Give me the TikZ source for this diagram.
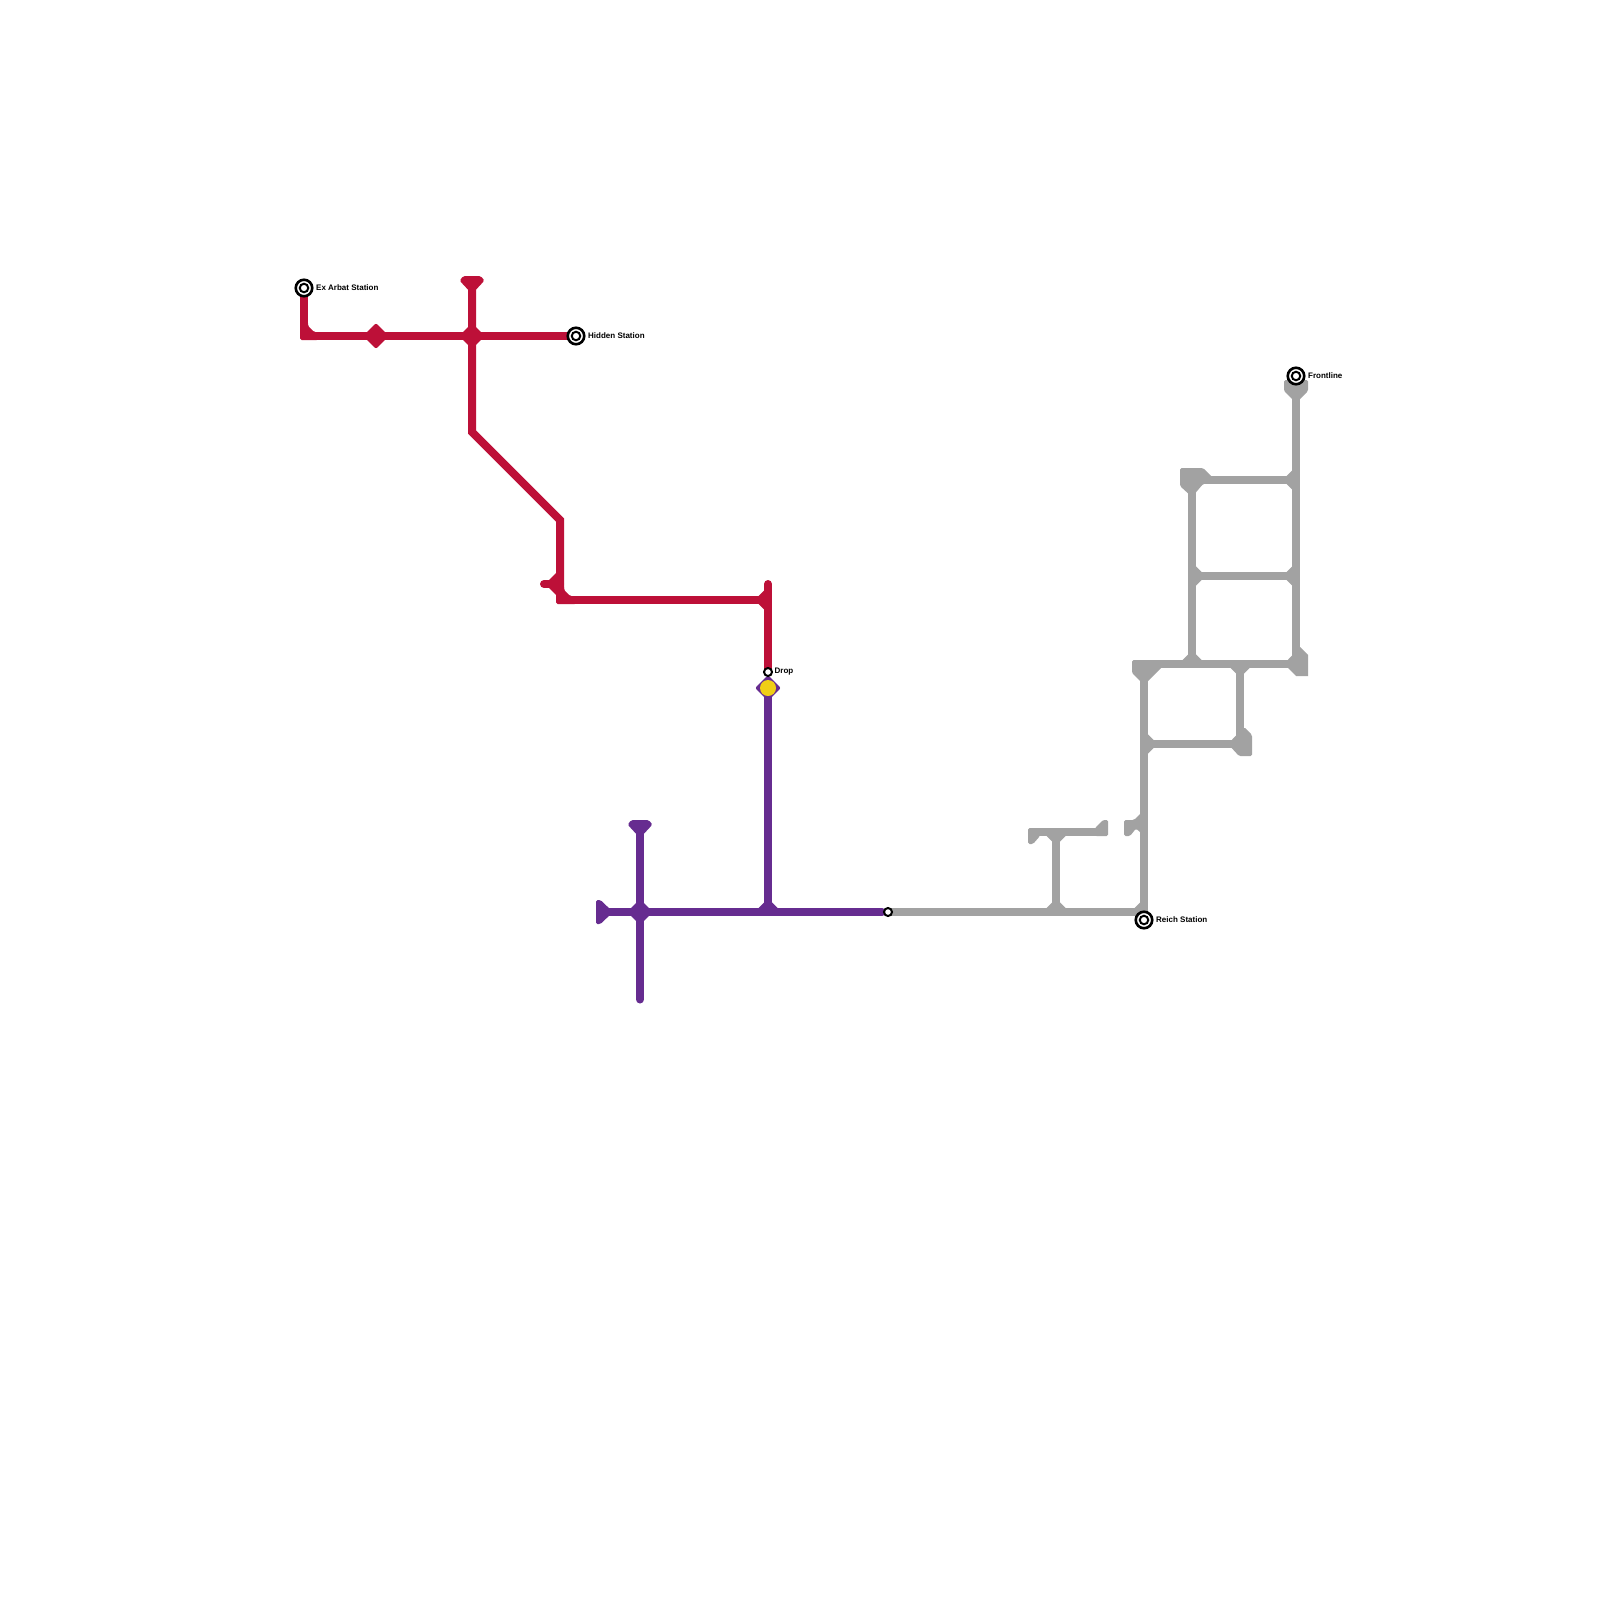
\documentclass[tikz,border=0pt]{standalone}
\usepackage{fontspec}
\setmainfont{Liberation Sans}
\usetikzlibrary{shapes.geometric}
\definecolor{redline}{HTML}{BD1038}
\definecolor{purpleline}{HTML}{662C90}
\definecolor{greyline}{HTML}{A2A2A2}
\definecolor{yellowdot}{HTML}{F0CE15}
\tikzset{
  x=1pt,y=-1pt,
  track/.style={line width=8pt,line join=miter},
  blob/.style={rounded corners=1.5pt},
  junction/.style={diamond,fill,inner sep=0pt,minimum size=26pt,rounded corners=2pt},
  bigring/.style={circle,draw=black,fill=white,line width=2.6pt,minimum size=16.5pt,inner sep=0pt},
  bigcore/.style={circle,draw=black,fill=white,line width=2pt,minimum size=8.5pt,inner sep=0pt},
  smallring/.style={circle,draw=black,fill=white,line width=2pt,minimum size=8pt,inner sep=0pt},
  lbl/.style={anchor=west,inner sep=0pt,font=\fontsize{8}{8}\selectfont\bfseries,text=black},
}
\begin{document}
\begin{tikzpicture}
\useasboundingbox (0,0) rectangle (1600,1600);
\fill[white] (0,0) rectangle (1600,1600);

% ---------- red line
\coordinate (rA) at (304,288);
\coordinate (rB1) at (304,330);
\coordinate (rB2) at (310,336);
\coordinate (rC) at (376,336);
\coordinate (rD) at (472,336);
\coordinate (rE) at (576,336);
\coordinate (rF) at (472,280);
\coordinate (rG) at (472,432);
\coordinate (rH) at (560,520);
\coordinate (rI1) at (560,594);
\coordinate (rI2) at (566,600);
\coordinate (rJ) at (768,600);
\coordinate (rK) at (768,672);
\coordinate (rL) at (768,584);
\coordinate (rM) at (544,584);
\coordinate (rN) at (560,584);
\begin{scope}[redline,fill=redline]
  \draw[track] (rA) -- (rB1);
  \draw[track] (rB2) -- (rD) -- (rE);
  \draw[track] (rF) -- (rD) -- (rG) -- (rH) -- (rI1);
  \draw[track] (rI2) -- (rJ);
  \draw[track,line cap=round] (rJ) -- (rL);
  \draw[track] (rJ) -- (rK);
  \draw[track,line cap=round] (rM) -- (rN);
  % outer corners and inner fillets
  \fill[blob] (300,322) -- (300,340) -- (318,340) -- (318,332) -- (314,332) -- (308,326) -- (308,322) -- cycle;
  \fill[blob] (556,586) -- (556,604) -- (576,604) -- (576,596) -- (570,596) -- (564,590) -- (564,586) -- cycle;
  \node[junction] (jr1) at (rC) {};
  \node[junction] (jr2) at (rD) {};
  \fill[blob] (459.5,280.5) -- (463.5,276) -- (480.5,276) -- (484.5,280.5) -- (472,294) -- cycle;
  \fill (545,584) -- (556,573) -- (556,595) -- cycle;
  \fill (754.5,600) -- (768,586.5) -- (768,613.5) -- cycle;
\end{scope}

% ---------- grey line
\coordinate (gA) at (888,912);
\coordinate (gB) at (1056,912);
\coordinate (gC) at (1144,912);
\coordinate (gD) at (1056,832);
\coordinate (gE) at (1032,832);
\coordinate (gF) at (1104,832);
\coordinate (gI) at (1144,744);
\coordinate (gJ) at (1240,744);
\coordinate (gK) at (1144,664);
\coordinate (gL) at (1192,664);
\coordinate (gM) at (1240,664);
\coordinate (gN) at (1296,664);
\coordinate (gO) at (1192,576);
\coordinate (gP) at (1296,576);
\coordinate (gQ) at (1192,480);
\coordinate (gR) at (1296,480);
\coordinate (gS) at (1296,388);
\begin{scope}[greyline,fill=greyline]
  \draw[track] (gA) -- (gC) -- (gK) -- (gN) -- (gS);
  \draw[track] (gB) -- (gD);
  \draw[track] (gE) -- (gF);
  \draw[track] (gI) -- (gJ) -- (gM);
  \draw[track] (gL) -- (gQ) -- (gR);
  \draw[track] (gO) -- (gP);
  % junction fillets
  \fill (1042.5,912) -- (1056,898.5) -- (1069.5,912) -- cycle;
  \fill (1042.5,832) -- (1056,845.5) -- (1069.5,832) -- cycle;
  \fill (1130.5,912) -- (1144,898.5) -- (1144,912) -- cycle;
  \fill (1157.5,744) -- (1144,730.5) -- (1144,757.5) -- cycle;
  \fill (1178.5,664) -- (1192,650.5) -- (1205.5,664) -- cycle;
  \fill (1226.5,664) -- (1240,677.5) -- (1253.5,664) -- cycle;
  \fill (1192,562.5) -- (1205.5,576) -- (1192,589.5) -- cycle;
  \fill (1282.5,576) -- (1296,562.5) -- (1296,589.5) -- cycle;
  \fill (1282.5,480) -- (1296,466.5) -- (1296,493.5) -- cycle;
  % end blobs
  \fill[blob] (1284,380) -- (1308,380) -- (1308,391) -- (1296,403) -- (1284,391) -- cycle;
  \fill[blob] (1180,468) -- (1203,468) -- (1216,481) -- (1203,484) -- (1192,497) -- (1180,486) -- cycle;
  \fill[blob] (1132,660) -- (1165,660) -- (1165,664) -- (1144,685) -- (1132,673) -- cycle;
  \fill (1284,664) -- (1300,647) -- (1308,655) -- (1308,676) -- (1296,676) -- cycle;
  \fill[blob] (1228,744) -- (1244,727) -- (1252,735) -- (1252,756) -- (1239,756) -- cycle;
  % stubs
  \fill[blob] (1028,828) -- (1040,828) -- (1040,836) -- (1033,844) -- (1028,844) -- cycle;
  \fill[blob] (1095,828) -- (1103,820) -- (1108,820) -- (1108,836) -- (1095,836) -- cycle;
  \fill[blob] (1124,820) -- (1134,820) -- (1141,813) -- (1144,828) -- (1141,833) -- (1136,828.5) -- (1130,836) -- (1124,836) -- cycle;
\end{scope}

% ---------- purple line
\coordinate (pA) at (768,688);
\coordinate (pB) at (768,912);
\coordinate (pC) at (640,912);
\coordinate (pD) at (600,912);
\coordinate (pE) at (882,912);
\coordinate (pF) at (640,824);
\coordinate (pG) at (640,999.5);
\begin{scope}[purpleline,fill=purpleline]
  \draw[track] (pA) -- (pB);
  \draw[track,line cap=round] (pD) -- (pE);
  \draw[track,line cap=round] (pF) -- (pG);
  \node[junction] (jp1) at (pC) {};
  \node[junction] (jp2) at (pA) {};
  \fill (754.5,912) -- (768,898.5) -- (781.5,912) -- cycle;
  \fill[blob] (627.5,824.5) -- (631.5,820) -- (648.5,820) -- (652.5,824.5) -- (640,838) -- cycle;
  \fill[blob] (596,900) -- (600.5,900) -- (613,912) -- (600.5,924) -- (596,924) -- cycle;
\end{scope}
\node[circle,fill=yellowdot,inner sep=0pt,minimum size=16pt] (drop dot) at (pA) {};

% ---------- stations
\node[bigring] (exarbat) at (rA) {};
\node[bigcore] (exarbat core) at (rA) {};
\node[bigring] (hidden) at (rE) {};
\node[bigcore] (hidden core) at (rE) {};
\node[bigring] (reich) at (1144,920) {};
\node[bigcore] (reich core) at (1144,920) {};
\node[bigring] (frontline) at (1296,376) {};
\node[bigcore] (frontline core) at (1296,376) {};
\node[smallring] (drop) at (rK) {};
\node[smallring] (link) at (gA) {};

% ---------- labels
\node[lbl] (l1) at (316,287.5) {Ex Arbat Station};
\node[lbl] (l2) at (588,335.5) {Hidden Station};
\node[lbl] (l3) at (774.5,672) {Drop};
\node[lbl] (l4) at (1156,919.5) {Reich Station};
\node[lbl] (l5) at (1308,375.5) {Frontline};
\end{tikzpicture}
\end{document}
